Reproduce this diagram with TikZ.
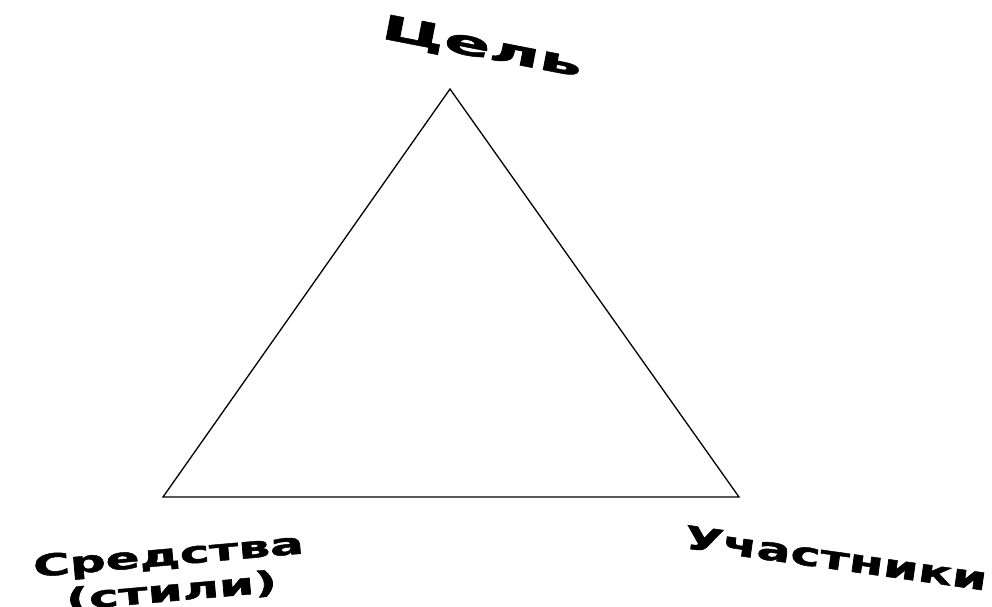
\documentclass[tikz,border=0pt]{standalone}
\usepackage{fontspec}
\newfontfamily\lbl{DejaVu Sans}[FakeBold=1.5]
\tikzset{
  edge/.style={line width=1.3pt, line join=miter},
  lab/.style={font=\lbl\bfseries, inner sep=0pt, align=center}
}
\begin{document}
\begin{tikzpicture}[x=1pt,y=-1pt]
\useasboundingbox (0,0) rectangle (992,606);
\coordinate (top) at (450,89);
\coordinate (bl) at (163,497);
\coordinate (br) at (739,497);
\draw[edge] (top) -- (bl) -- (br) -- cycle;
\node[lab, rotate=-11] (goal) at (482,48) {\fontsize{34}{34}\selectfont\scalebox{2.02}[1]{Цель}};
\node[lab, rotate=5, font=\lbl\bfseries\fontsize{30}{36}\selectfont] (means) at (170,574) {\scalebox{1.67}[1]{Средства}\\\scalebox{1.67}[1]{(стили)}};
\node[lab, rotate=-8] (part) at (836,558) {\fontsize{32}{32}\selectfont\scalebox{1.57}[1]{Участники}};
\end{tikzpicture}
\end{document}
